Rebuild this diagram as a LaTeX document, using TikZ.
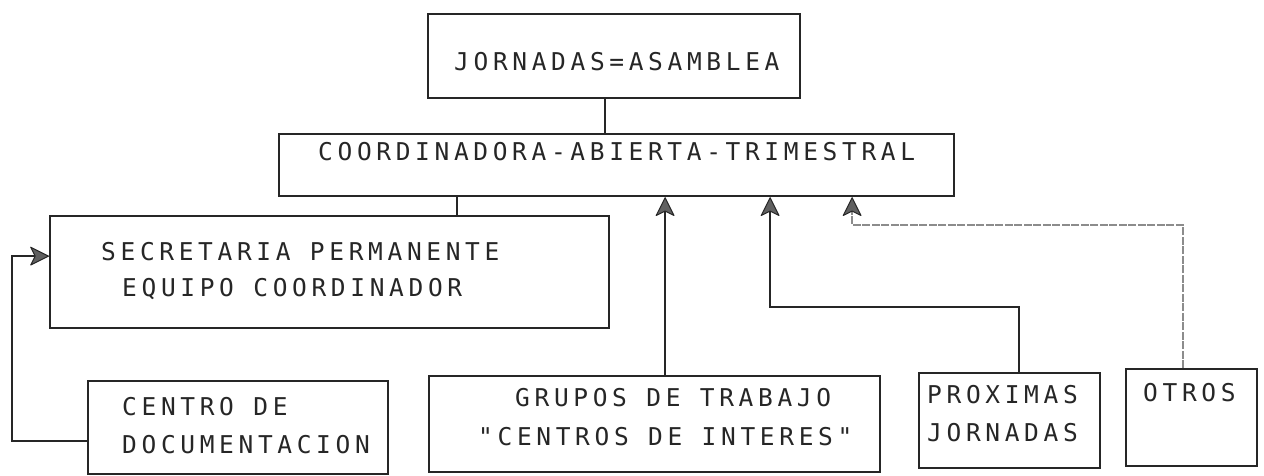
\documentclass[tikz,border=0pt]{standalone}
\usepackage{fontspec}
\newfontfamily\plotfont[LetterSpace=19]{DejaVu Sans Mono}
\usetikzlibrary{arrows.meta}
\definecolor{ink}{HTML}{262626}
\definecolor{tipfill}{HTML}{606060}
\definecolor{faint}{HTML}{8C8C8C}
\begin{document}
\begin{tikzpicture}[x=1pt,y=-1pt,
  box/.style={draw=ink, line width=2.2pt, inner sep=0pt, anchor=north west},
  lbl/.style={anchor=west, inner sep=0pt, text=ink, font=\plotfont\fontsize{24.5}{28}\selectfont},
  tip/.style={-{Stealth[length=20pt, width=20pt, inset=5pt, round, fill=tipfill, color=ink, line width=1pt]}},
  conn/.style={draw=ink, line width=1.8pt},
  arr/.style={conn, tip},
  faintconn/.style={draw=faint, line width=1.3pt, dash pattern=on 8pt off 1.5pt, tip}
]
\useasboundingbox[fill=white] (0,0) rectangle (1264,475);

% boxes
\node[box, minimum width=372pt, minimum height=84pt] (top) at (427,13) {};
\node[box, minimum width=675pt, minimum height=62pt] (coord) at (278,133) {};
\node[box, minimum width=559pt, minimum height=112pt] (sec) at (49,215) {};
\node[box, minimum width=300pt, minimum height=93pt] (centro) at (87,380) {};
\node[box, minimum width=451pt, minimum height=96pt] (grupos) at (428,375) {};
\node[box, minimum width=181pt, minimum height=95pt] (prox) at (918,372) {};
\node[box, minimum width=131pt, minimum height=97pt] (otros) at (1125,368) {};

% texts
\node[lbl] (t0) at (454,62) {JORNADAS=ASAMBLEA};
\node[lbl] (t1) at (318,152) {COORDINADORA-ABIERTA-TRIMESTRAL};
\node[lbl] (t2) at (101,252) {SECRETARIA PERMANENTE};
\node[lbl] (t3) at (122,289) {EQUIPO COORDINADOR};
\node[lbl] (t4) at (122,407) {CENTRO DE};
\node[lbl] (t5) at (122,445) {DOCUMENTACION};
\node[lbl] (t6) at (515,398) {GRUPOS DE TRABAJO};
\node[lbl] (t7) at (478,437) {"CENTROS DE INTERES"};
\node[lbl] (t8) at (927,395) {PROXIMAS};
\node[lbl] (t9) at (927,433) {JORNADAS};
\node[lbl] (t10) at (1143,393) {OTROS};

% connectors
\draw[conn] ([xshift=-9pt]top.south) -- ([xshift=-9pt]top.south |- coord.north);
\draw[conn] ([xshift=127.5pt]sec.north) -- ([xshift=127.5pt]sec.north |- coord.south);
\draw[arr] ([yshift=-13.5pt]centro.west) -- ++(-75,0) |- ([yshift=16pt]sec.west);
\draw[arr] ([xshift=10.5pt]grupos.north) -- ([xshift=10.5pt]grupos.north |- coord.south);
\draw[arr] ([xshift=9.5pt]prox.north) -- ++(0,-65) -| ([xshift=153.5pt]coord.south);
\draw[faintconn] ([xshift=-8.5pt]otros.north) -- ++(0,-143) -| ([xshift=235.5pt]coord.south);
\end{tikzpicture}
\end{document}
